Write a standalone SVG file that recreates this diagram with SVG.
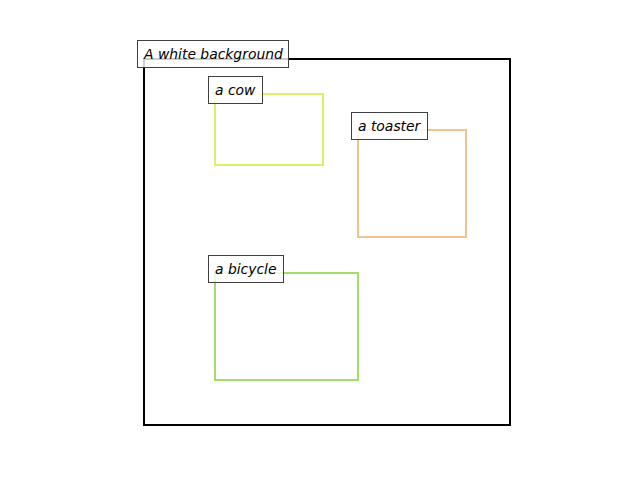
<svg xmlns="http://www.w3.org/2000/svg" width="640" height="480" viewBox="0 0 640 480">
<style>
.box{fill:none;stroke-width:2;stroke-linejoin:miter}
.lbl{fill:#ffffff;fill-opacity:0.8;stroke:#3f3f3f;stroke-width:1}
.t{font-family:"DejaVu Sans",sans-serif;font-style:oblique;font-size:13.9px;fill:#000}
</style>
<rect width="640" height="480" fill="#ffffff"/>
<g id="background">
<rect class="box" x="144" y="59" width="366" height="366" stroke="#000000"/>
</g>
<g id="cow">
<rect class="box" x="215" y="94" width="108" height="71" stroke="#dcee6a"/>
</g>
<g id="toaster">
<rect class="box" x="358" y="130" width="108" height="107" stroke="#f4c290"/>
</g>
<g id="bicycle">
<rect class="box" x="215" y="273" width="143" height="107" stroke="#a0e068"/>
</g>
<g id="connectors"></g>
<g id="labels">
<g id="label-background"><rect class="lbl" x="137.5" y="40.5" width="151" height="27"/><text class="t" x="144" y="59">A white background</text></g>
<g id="label-cow"><rect class="lbl" x="208.5" y="76.5" width="54" height="27"/><text class="t" x="215" y="95">a cow</text></g>
<g id="label-toaster"><rect class="lbl" x="351.5" y="112.5" width="76" height="27"/><text class="t" x="358" y="131">a toaster</text></g>
<g id="label-bicycle"><rect class="lbl" x="208.5" y="255.5" width="75" height="27"/><text class="t" x="215" y="274">a bicycle</text></g>
</g>
</svg>
